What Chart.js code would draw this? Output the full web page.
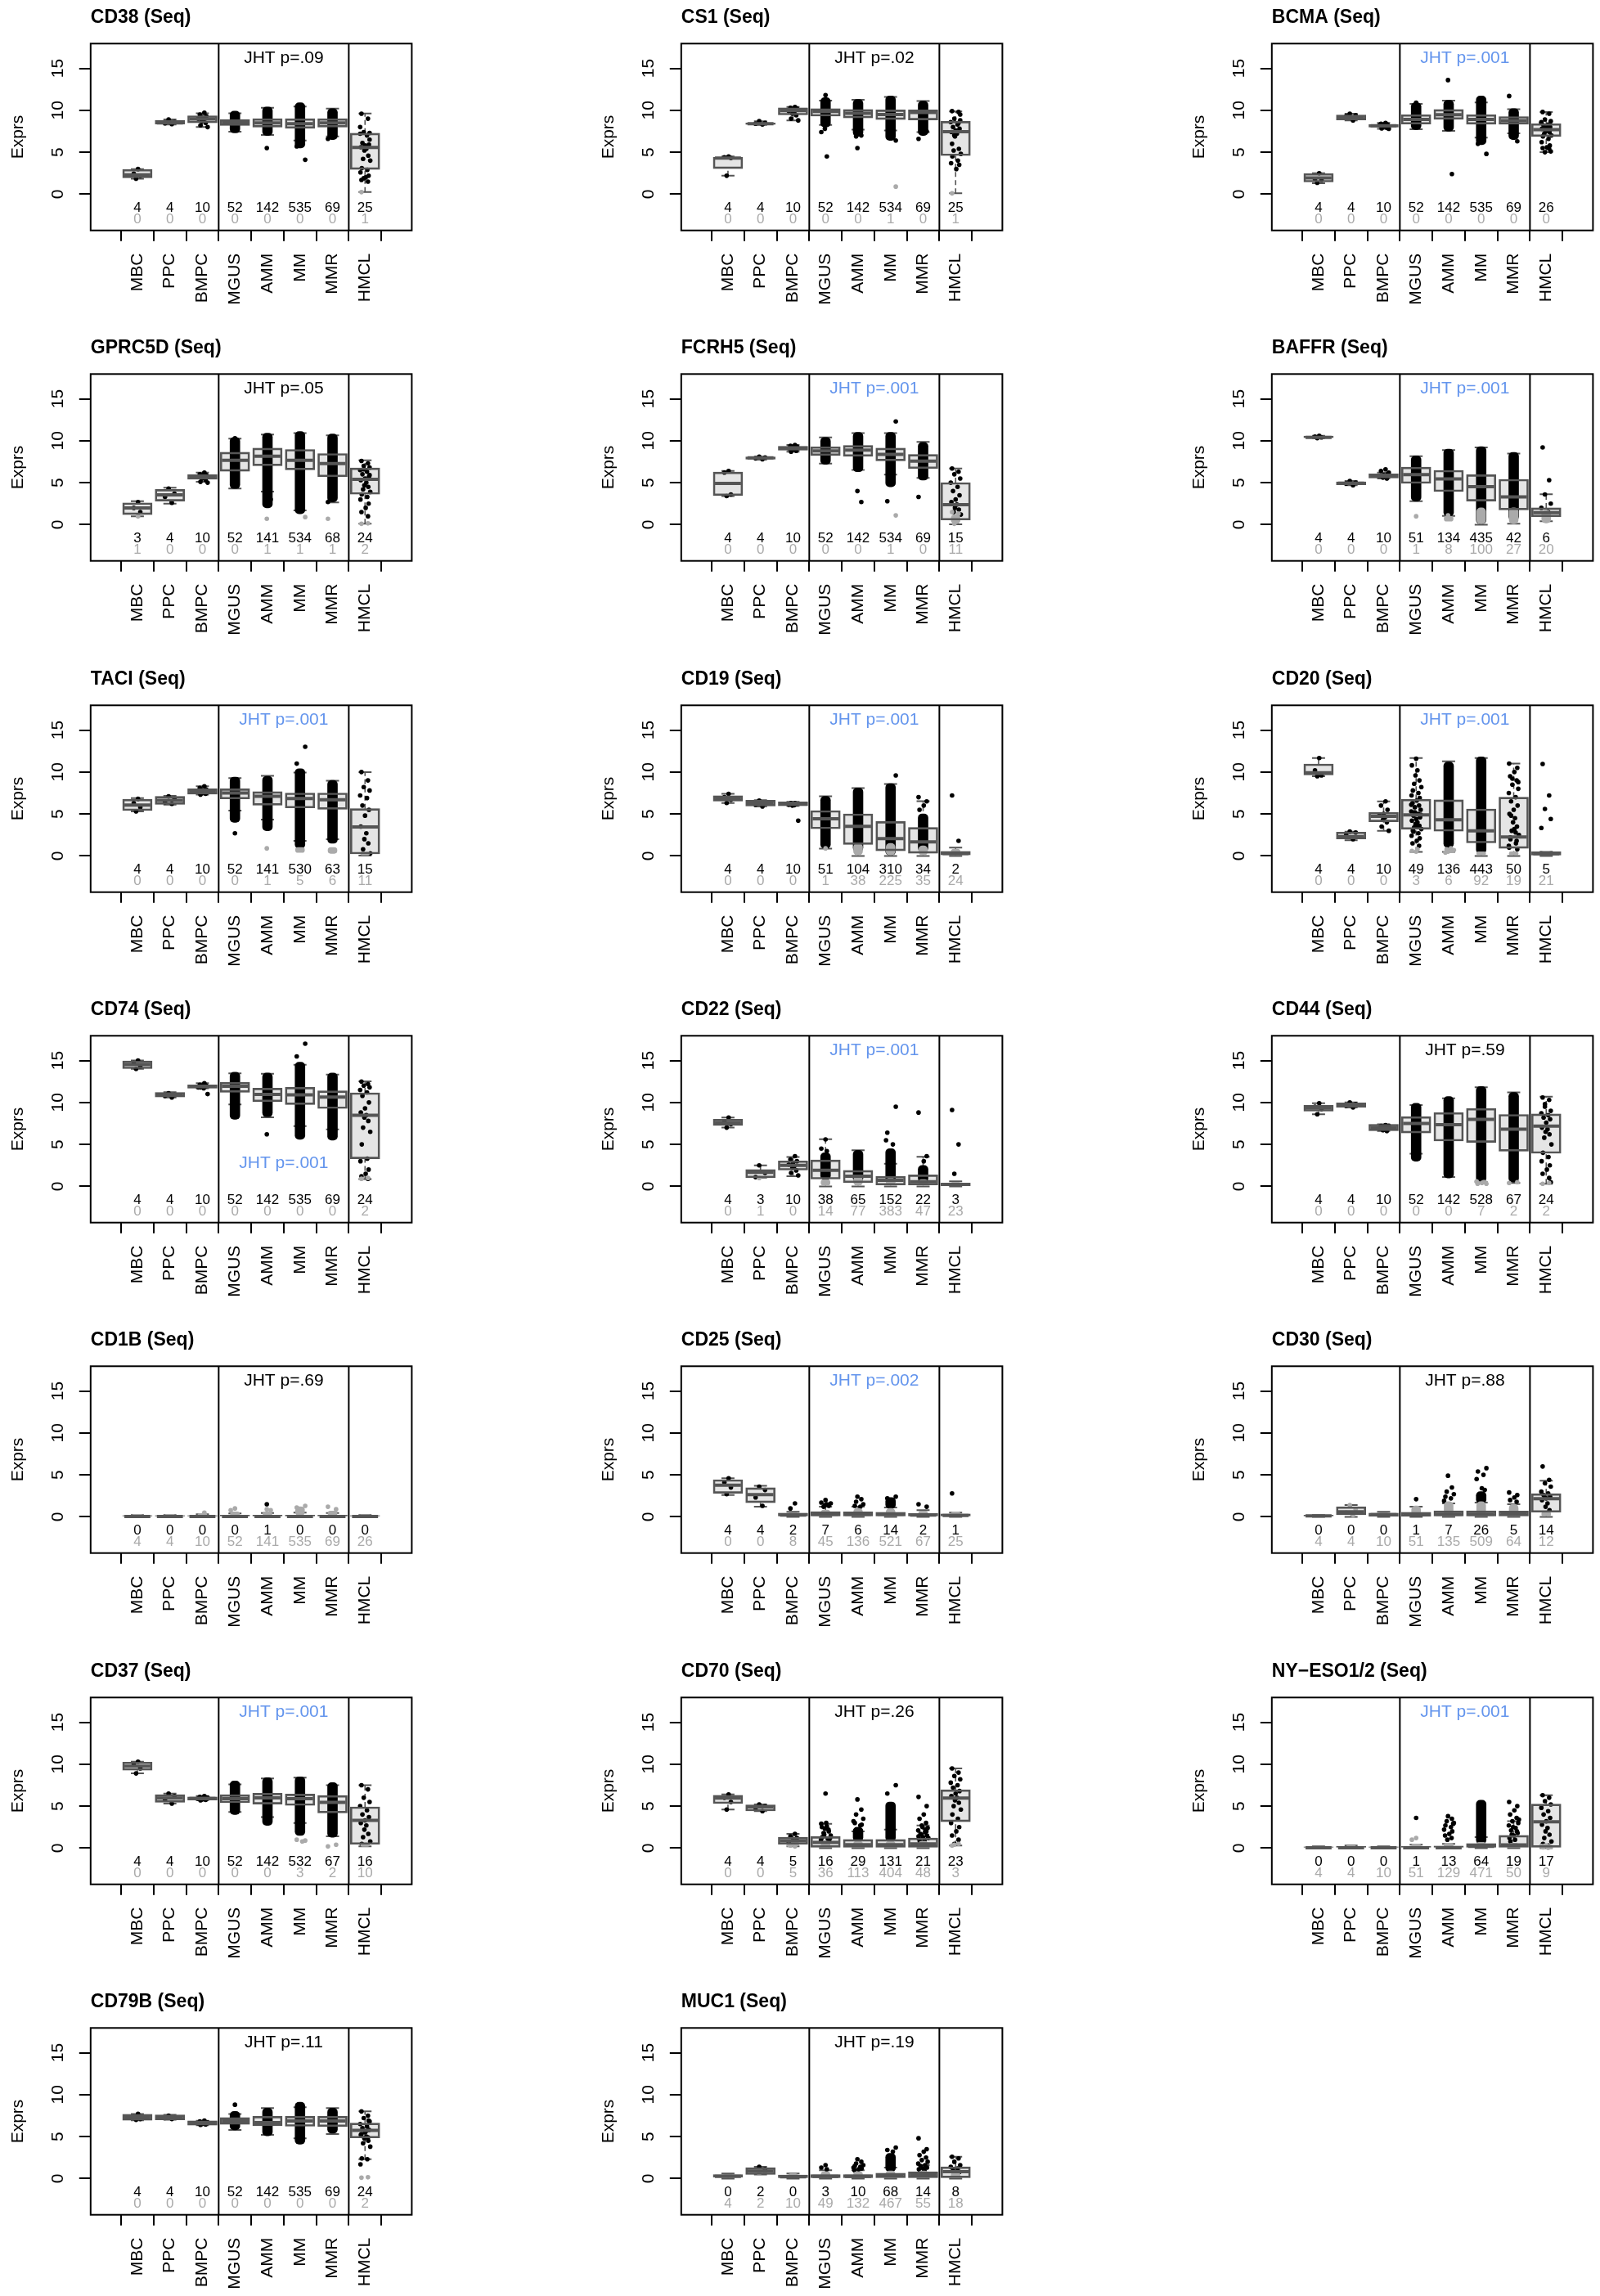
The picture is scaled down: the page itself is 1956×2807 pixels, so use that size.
<!DOCTYPE html>
<html><head><meta charset="utf-8">
<script src="https://cdn.jsdelivr.net/npm/chart.js@4.4.1/dist/chart.umd.min.js"></script>
<style>
html,body{margin:0;padding:0;background:#fff;}
#wrap{position:relative;width:1956px;height:2807px;overflow:hidden;background:#fff;}
#wrap canvas{position:absolute;}
</style></head><body><div id="wrap"></div>
<script>
// ---------------- DATA ----------------
const groups = ['MBC','PPC','BMPC','MGUS','AMM','MM','MMR','HMCL'];
const genes = ['CD38','CS1','BCMA','GPRC5D','FCRH5','BAFFR','TACI','CD19','CD20','CD74','CD22','CD44','CD1B','CD25','CD30','CD37','CD70','NY\u2212ESO1/2','CD79B','MUC1'];
const jhtLabels = ['JHT p=.09','JHT p=.02','JHT p=.001','JHT p=.05','JHT p=.001','JHT p=.001','JHT p=.001','JHT p=.001','JHT p=.001','JHT p=.001','JHT p=.001','JHT p=.59','JHT p=.69','JHT p=.002','JHT p=.88','JHT p=.001','JHT p=.26','JHT p=.001','JHT p=.11','JHT p=.19'];
const jhtSignificant = [false,false,true,false,true,true,true,true,true,true,true,false,false,true,false,true,false,true,false,false];
const yTicks = [0,5,10,15];
const separators = [3.5,7.5];

// number of samples with detectable (black) / undetectable (gray) expression
const nBlack = [
 [4,4,10,52,142,535,69,25],[4,4,10,52,142,534,69,25],[4,4,10,52,142,535,69,26],
 [3,4,10,52,141,534,68,24],[4,4,10,52,142,534,69,15],[4,4,10,51,134,435,42,6],
 [4,4,10,52,141,530,63,15],[4,4,10,51,104,310,34,2],[4,4,10,49,136,443,50,5],
 [4,4,10,52,142,535,69,24],[4,3,10,38,65,152,22,3],[4,4,10,52,142,528,67,24],
 [0,0,0,0,1,0,0,0],[4,4,2,7,6,14,2,1],[0,0,0,1,7,26,5,14],
 [4,4,10,52,142,532,67,16],[4,4,5,16,29,131,21,23],[0,0,0,1,13,64,19,17],
 [4,4,10,52,142,535,69,24],[0,2,0,3,10,68,14,8]];
const nGray = [
 [0,0,0,0,0,0,0,1],[0,0,0,0,0,1,0,1],[0,0,0,0,0,0,0,0],
 [1,0,0,0,1,1,1,2],[0,0,0,0,0,1,0,11],[0,0,0,1,8,100,27,20],
 [0,0,0,0,1,5,6,11],[0,0,0,1,38,225,35,24],[0,0,0,3,6,92,19,21],
 [0,0,0,0,0,0,0,2],[0,1,0,14,77,383,47,23],[0,0,0,0,0,7,2,2],
 [4,4,10,52,141,535,69,26],[0,0,8,45,136,521,67,25],[4,4,10,51,135,509,64,12],
 [0,0,0,0,0,3,2,10],[0,0,5,36,113,404,48,3],[4,4,10,51,129,471,50,9],
 [0,0,0,0,0,0,0,2],[4,2,10,49,132,467,55,18]];

// box statistics per group: [lower whisker, Q1, median, Q3, upper whisker]
const boxStats = [
 [[1.85,1.95,2.3,2.95,3.0],[8.3,8.35,8.5,8.8,8.9],[8.0,8.5,8.95,9.35,9.65],[7.45,8.2,8.6,8.9,9.65],[7.05,8.0,8.5,9.0,10.3],[6.4,7.85,8.4,9.0,10.45],[6.9,8.0,8.5,9.0,10.2],[0.25,2.95,5.57,7.27,9.62]],
 [[2.2,3.05,4.3,4.4,4.5],[8.25,8.3,8.4,8.5,8.7],[8.8,9.45,9.95,10.3,10.4],[8.25,9.3,9.86,10.2,11.15],[7.7,9.1,9.65,10.1,11.25],[7.6,8.9,9.5,10.05,11.6],[7.4,8.85,9.75,10.05,11.1],[0.1,4.6,7.45,8.68,9.86]],
 [[1.3,1.45,1.95,2.45,2.5],[8.8,8.85,9.1,9.45,9.6],[7.8,8.0,8.15,8.3,8.5],[7.75,8.35,8.92,9.47,10.77],[7.55,8.92,9.47,10.1,11.16],[6.75,8.34,8.92,9.47,10.93],[7.26,8.34,8.76,9.25,10.12],[5.0,6.87,7.69,8.4,9.8]],
 [[1.0,1.2,2.0,2.6,2.8],[2.5,2.8,3.55,4.2,4.4],[5.1,5.4,5.72,5.95,6.2],[4.3,6.37,7.66,8.63,10.25],[3.94,7.02,8.15,9.12,10.73],[1.7,6.53,7.66,8.96,10.9],[2.65,5.72,7.27,8.47,10.64],[0.1,3.62,5.4,6.76,7.66]],
 [[3.4,3.46,4.91,6.27,6.4],[7.75,7.8,7.95,8.08,8.1],[8.7,8.86,9.1,9.34,9.5],[7.27,8.24,8.79,9.28,10.4],[6.53,8.15,8.89,9.44,10.9],[5.95,7.6,8.37,9.12,10.9],[5.56,6.69,7.57,8.37,9.86],[0.05,0.55,2.39,5.01,6.69]],
 [[10.3,10.35,10.41,10.55,10.6],[4.7,4.75,4.95,5.1,5.2],[5.5,5.55,5.8,6.05,6.2],[2.8,4.91,5.95,6.85,8.15],[1.05,3.94,5.46,6.47,8.89],[0.0,2.81,4.53,5.95,9.21],[0.1,1.75,3.3,5.4,8.47],[0.4,0.94,1.42,2.0,3.62]],
 [[5.3,5.4,6.05,6.76,6.9],[6.1,6.15,6.63,7.1,7.15],[7.3,7.35,7.66,7.99,8.3],[5.4,6.79,7.5,7.99,9.28],[4.33,6.05,7.11,7.66,9.54],[1.8,5.72,6.85,7.5,9.93],[2.0,5.56,6.69,7.5,8.96],[0.05,0.23,3.46,5.63,9.99]],
 [[6.3,6.53,6.85,7.18,7.4],[5.9,5.95,6.27,6.63,6.65],[5.95,5.97,6.2,6.43,6.45],[0.87,3.23,4.43,5.4,7.11],[0.0,1.36,3.52,5.01,8.08],[0.0,0.61,2.07,4.1,8.57],[0.0,0.32,1.68,3.39,6.53],[0.0,0.13,0.29,0.55,1.0]],
 [[9.5,9.66,9.92,10.96,11.67],[1.87,2.03,2.3,2.84,2.9],[3.0,4.08,4.73,5.18,6.51],[0.48,3.17,4.89,6.74,11.67],[0.48,2.94,4.3,6.68,11.28],[0.0,1.55,3.0,5.6,11.67],[0.0,0.9,2.26,7.0,11.0],[0.0,0.0,0.25,0.5,0.5]],
 [[14.0,14.03,14.52,14.94,15.0],[10.6,10.64,10.9,11.2,11.22],[11.7,11.7,11.93,12.09,12.3],[9.76,11.22,11.93,12.41,13.48],[8.24,10.09,10.96,11.7,13.42],[7.18,9.76,10.9,11.8,14.5],[6.8,9.28,10.64,11.38,13.32],[0.87,3.3,8.47,11.15,12.51]],
 [[7.0,7.27,7.57,7.99,8.2],[1.03,1.03,1.68,2.0,2.5],[1.2,1.94,2.49,3.04,3.5],[0.0,0.87,1.91,3.14,5.63],[0.0,0.45,1.2,1.91,4.3],[0.0,0.16,0.71,1.2,2.7],[0.0,0.16,0.55,1.36,3.52],[0.0,0.06,0.23,0.39,0.6]],
 [[8.6,8.96,9.34,9.67,9.9],[9.4,9.44,9.7,9.95,10.0],[6.6,6.63,7.02,7.4,7.4],[3.9,6.37,7.5,8.31,9.7],[1.1,5.4,7.34,8.79,10.5],[0.5,5.24,7.99,9.28,11.8],[0.4,4.2,6.82,8.57,11.2],[0.3,3.94,7.18,8.63,10.7]],
 [[0,0,0.05,0.15,0.2],[0,0,0.05,0.15,0.2],[0,0,0.05,0.15,0.3],[0,0,0.05,0.2,0.4],[0,0,0.05,0.2,0.45],[0,0,0.05,0.2,0.5],[0,0,0.05,0.2,0.45],[0,0,0.05,0.15,0.2]],
 [[2.6,2.81,3.78,4.43,4.6],[1.2,1.68,2.65,3.46,3.7],[0,0,0.2,0.45,0.6],[0,0,0.3,0.61,1.2],[0,0,0.3,0.6,1.2],[0,0,0.3,0.55,1.1],[0,0,0.2,0.4,0.8],[0,0,0.15,0.35,0.5]],
 [[0,0,0.1,0.2,0.2],[0,0.23,0.61,1.2,1.4],[0,0.06,0.25,0.45,0.6],[0,0.06,0.3,0.55,1.2],[0,0,0.3,0.71,1.6],[0,0,0.3,0.71,1.7],[0,0.1,0.4,0.7,1.5],[0,0.55,2.17,2.75,4.3]],
 [[8.9,9.28,9.76,10.25,10.3],[5.3,5.46,5.95,6.37,6.5],[5.7,5.72,5.92,6.11,6.2],[4.3,5.4,5.88,6.37,7.6],[3.7,5.24,5.98,6.53,8.3],[3.0,5.08,5.88,6.43,8.4],[1.4,4.2,5.46,6.27,7.5],[0.2,0.45,3.3,4.91,7.5]],
 [[4.6,5.3,5.95,6.3,6.4],[4.4,4.43,4.91,5.14,5.2],[0.2,0.45,0.87,1.29,1.7],[0,0,0.68,1.36,2.9],[0,0,0.4,1.03,2.0],[0,0,0.4,1.03,2.2],[0,0,0.5,1.2,2.7],[0.3,3.14,5.95,6.95,9.5]],
 [[0,0,0.05,0.15,0.2],[0,0,0.05,0.2,0.3],[0,0,0.05,0.15,0.2],[0,0,0.05,0.2,0.4],[0,0,0.05,0.25,0.5],[0,0,0.2,0.55,1.3],[0,0,0.39,1.52,3.2],[0,0,3.14,5.24,6.3]],
 [[6.94,6.94,7.32,7.65,7.7],[7.0,7.0,7.35,7.58,7.6],[6.35,6.35,6.61,6.87,6.9],[5.8,6.45,6.87,7.26,7.7],[5.2,6.29,6.68,7.42,8.4],[4.8,6.23,6.87,7.42,8.5],[5.3,6.19,6.87,7.42,8.4],[2.3,4.84,5.74,6.61,8.0]],
 [[0,0.16,0.26,0.48,0.6],[0.48,0.48,0.9,1.29,1.4],[0,0,0.2,0.42,0.6],[0,0,0.25,0.48,1.0],[0,0,0.25,0.48,1.0],[0,0,0.35,0.65,1.3],[0,0,0.45,0.81,1.6],[0,0,0.81,1.39,2.6]]];

// value range [low, high] of densely packed (overlapping) detected samples
const N = null;
const blackDense = [
 [N,N,N,[7.3,9.9],[7.0,10.4],[5.5,10.9],[6.5,10.2],N],
 [N,N,N,[8.0,11.5],[6.9,11.3],[6.4,11.7],[7.0,11.1],N],
 [N,N,N,[7.7,10.9],[7.5,11.2],[5.9,11.7],[6.5,10.2],N],
 [N,N,N,[4.3,10.4],[2.0,10.9],[1.3,11.1],[2.7,10.8],N],
 [N,N,N,[7.2,10.4],[6.3,11.0],[4.5,11.0],[5.3,9.8],N],
 [N,N,N,[2.8,8.2],[1.0,9.0],[0.0,9.3],[0.5,8.6],N],
 [N,N,N,[4.0,9.4],[3.0,9.5],[0.9,10.4],[1.5,9.0],N],
 [N,N,N,[0.9,7.1],[0.5,8.1],[0.0,8.6],[0.5,5.0],N],
 [N,N,N,N,[1.0,11.2],[0.3,11.8],N,N],
 [N,N,N,[8.0,13.6],[8.3,13.5],[5.6,14.8],[5.5,13.5],N],
 [N,N,N,[0.8,4.0],[0.5,4.3],[0.3,4.5],[0.5,2.5],N],
 [N,N,N,[3.0,9.9],[1.0,10.7],[0.5,11.9],[0.5,11.2],N],
 [N,N,N,N,N,N,N,N],
 [N,N,N,N,N,[1.0,2.3],N,N],
 [N,N,N,N,N,[1.6,3.0],N,N],
 [N,N,N,[4.0,8.0],[2.7,8.4],[1.5,8.5],[1.3,7.8],N],
 [N,N,N,N,[0.8,2.5],[0.8,5.5],N,N],
 [N,N,N,N,N,[0.5,5.7],N,N],
 [N,N,N,[5.8,8.0],[5.1,8.4],[4.1,9.1],[5.4,8.4],N],
 [N,N,N,N,N,[0.8,3.0],N,N]];

// value range of densely packed undetected (gray) samples
const grayDense = [
 [N,N,N,N,N,N,N,N],[N,N,N,N,N,N,N,N],[N,N,N,N,N,N,N,N],[N,N,N,N,N,N,N,N],
 [N,N,N,N,N,N,N,[0.0,1.2]],
 [N,N,N,N,[0.4,1.0],[0.0,2.0],[0.0,2.0],[0.2,1.7]],
 [N,N,N,N,N,[0.4,1.0],[0.3,1.0],[0.0,0.5]],
 [N,N,N,N,[0.0,1.5],[0.0,1.5],[0.0,1.2],[0.0,0.8]],
 [N,N,N,N,N,[0.0,0.5],[0.0,0.5],[0.0,0.6]],
 [N,N,N,N,N,N,N,N],
 [N,N,N,[0.0,0.8],[0.0,1.2],[0.0,1.0],[0.0,0.8],[0.0,0.5]],
 [N,N,N,N,N,N,N,N],
 [[0,0.3],[0,0.3],[0,0.4],[0,0.6],[0,0.6],[0,1.2],[0,0.7],[0,0.25]],
 [N,N,[0,0.5],[0,0.8],[0,1.0],[0,1.0],[0,0.7],[0,0.6]],
 [[0,0.2],N,[0,0.5],[0,1.3],[0,1.8],[0,1.8],[0,1.5],[0,0.6]],
 [N,N,N,N,N,N,N,[0.2,0.6]],
 [N,N,N,[0,0.8],[0,0.8],[0,0.8],[0,0.8],N],
 [[0,0.2],[0,0.3],[0,0.2],[0,0.5],[0,0.6],[0,0.7],[0,0.6],N],
 [N,N,N,N,N,N,N,N],
 [[0,0.5],N,[0,0.6],[0,0.8],[0,0.8],[0,0.9],[0,0.9],[0,0.7]]];

// individually visible detected samples
const blackPoints = [
 [[3.0,2.45,2.15,1.85],[8.9,8.6,8.45,8.35],[9.7,9.5,9.3,9.1,9.0,8.9,8.7,8.5,8.2,8.0],[],[5.5],[4.1,5.7,6.0],[6.6],[9.6,9.0,7.4,7.3,7.2,7.0,6.1,5.9,5.8,5.6,5.4,5.2,4.6,4.2,4.0,3.1,2.9,2.6,2.2,2.0,1.7,1.5,1.9,6.5,8.0]],
 [[4.5,4.4,4.3,2.2],[8.7,8.5,8.4,8.3],[10.4,10.3,10.2,10.0,9.9,9.8,9.6,9.4,9.0,8.8],[11.8,7.4,4.5,7.8],[5.5,7.0,6.9],[6.4],[6.6,7.5],[9.9,9.8,9.0,8.8,8.6,8.3,8.0,7.8,7.6,7.4,7.2,6.9,5.4,5.2,4.8,4.5,4.0,3.7,3.5,3.0,6.0,8.5,7.0,9.5]],
 [[2.5,1.8,1.7,1.35],[9.6,9.4,9.3,8.8],[8.5,8.4,8.3,8.2,8.2,8.1,8.0,7.9,7.85,7.8],[10.9],[13.6,2.4],[4.8,6.0],[11.7,6.3],[9.8,9.6,8.9,8.7,8.5,8.3,8.2,8.0,7.9,7.8,7.6,7.5,7.4,7.2,7.0,6.9,6.6,6.2,5.8,5.6,5.5,5.4,5.0,5.1,8.6,7.7]],
 [[2.7,2.0,1.5],[4.3,3.7,3.3,2.6],[6.2,6.0,5.9,5.8,5.7,5.6,5.5,5.3,5.1,5.0],[10.3],[2.5,3.0],[],[2.7],[7.6,7.3,7.0,6.8,6.5,6.3,6.0,5.7,5.5,5.3,5.0,4.7,4.5,4.2,3.9,3.6,3.3,3.0,2.5,2.0,1.5,1.0,6.6,5.9]],
 [[6.4,6.2,3.6,3.4],[8.1,8.0,7.9,7.8],[9.5,9.4,9.3,9.2,9.1,9.0,8.9,8.8,8.7,9.1],[],[4.0,2.7],[12.3,2.8],[3.3],[6.7,6.3,6.0,5.5,5.0,4.5,4.0,3.5,3.0,2.7,2.4,2.0,1.8,1.5,1.2]],
 [[10.6,10.5,10.4,10.3],[5.2,5.0,4.9,4.7],[6.6,6.4,6.0,5.9,5.8,5.7,5.6,5.5,5.8,6.2],[],[],[],[],[9.2,5.3,3.6,2.5,2.0,1.5]],
 [[6.8,6.3,5.8,5.3],[7.1,6.8,6.4,6.2],[8.3,8.1,7.9,7.8,7.7,7.6,7.5,7.4,7.3,7.7],[2.7],[],[13.0,11.0],[],[10.0,9.0,8.2,7.8,7.2,6.9,6.0,5.5,4.8,3.5,2.7,2.0,1.5,0.8,0.3]],
 [[7.4,7.0,6.7,6.3],[6.6,6.4,6.1,5.9],[6.3,6.25,6.2,6.15,6.1,6.05,6.0,6.2,6.3,4.2],[],[],[9.6],[7.0,6.5,6.0,5.5],[7.2,1.8]],
 [[11.67,10.2,9.6,9.5],[2.9,2.8,2.5,2.0],[6.5,6.0,5.5,5.0,4.8,4.6,4.3,4.0,3.5,3.0],
  [11.6,10.8,10.2,9.6,9.0,8.6,8.2,7.8,7.5,7.2,6.9,6.6,6.3,6.0,5.8,5.5,5.3,5.0,4.8,4.6,4.4,4.2,4.0,3.8,3.6,3.4,3.2,3.0,2.7,2.4,2.1,1.8,1.5,1.2,5.2,4.9,6.1,3.5,2.9],
  [],[],
  [11.0,10.5,10.0,9.5,9.0,8.5,8.0,7.5,7.0,6.5,6.0,5.5,5.0,4.5,4.0,3.5,3.0,2.5,2.0,1.5,1.0,0.8,3.2,2.2,1.8,9.2,8.8,1.2,2.8,4.8],
  [10.96,7.2,5.6,4.4,3.33]],
 [[15.0,14.7,14.3,14.0],[11.1,10.9,10.8,10.6],[12.3,12.1,12.0,11.9,11.8,11.7,12.0,11.9,11.8,11.0],[],[6.2],[17.0,15.5],[],[12.5,12.2,12.0,11.8,11.5,11.2,10.8,10.0,9.3,8.8,8.5,8.2,7.8,7.0,6.5,5.0,3.3,3.0,2.0,1.5,1.2,0.9]],
 [[8.2,7.7,7.4,7.0],[2.5,1.6,1.1],[3.6,3.2,3.0,2.8,2.6,2.4,2.2,1.9,1.6,1.3],[5.6,4.5,4.2],[],[9.5,6.4,5.0,5.5],[8.8,3.6,3.0],[9.1,5.0,1.5]],
 [[9.9,9.5,9.2,8.6],[10.0,9.8,9.6,9.4],[7.3,7.2,7.1,7.0,6.9,6.8,6.7,6.6,7.0,7.2],[],[],[],[],[10.6,10.3,9.5,9.0,8.7,8.5,8.2,8.0,7.6,7.0,6.8,6.5,6.2,5.8,5.0,4.0,3.5,3.0,2.5,2.0,1.5,1.0,9.8,0.5]],
 [[],[],[],[],[1.5],[],[],[]],
 [[4.6,4.1,3.5,2.7],[3.6,3.2,2.3,1.3],[1.6,1.0],[2.0,1.7,1.5,1.4,1.3,1.2,1.6],[2.4,2.1,1.8,1.5,1.3,1.2],[2.4,2.2,2.0],[1.5,1.2],[2.8]],
 [[],[],[],[2.1],[4.9,3.5,3.0,2.7,2.4,2.2,1.9],[5.8,5.4,5.0,4.5,3.2,3.4],[2.9,2.6,2.3,2.0,1.8],[6.0,4.4,4.0,3.6,3.0,2.8,2.6,2.4,2.2,2.0,1.6,1.2,0.8,2.5]],
 [[10.3,10.0,9.5,8.9],[6.5,6.2,5.8,5.3],[6.2,6.1,6.0,5.95,5.9,5.85,5.8,5.75,5.7,6.0],[],[],[],[],[7.5,7.0,6.0,5.5,5.0,4.5,4.0,3.7,3.3,3.0,2.7,2.2,1.7,1.3,0.8,0.5]],
 [[6.4,6.0,5.5,4.6],[5.2,5.0,4.8,4.4],[1.7,1.4,1.2,0.9,0.7],[6.5,2.9,2.6,2.3,2.0,1.8,1.5,1.3,1.1,1.0,0.9,3.0,2.5,2.2,1.6,1.2],[5.8,4.6,4.0,3.5,3.0,2.7,3.2,2.8],[7.5,6.5],[6.1,5.0,4.0,3.5,3.0,2.7,2.4,2.1,1.9,1.7,1.5,1.3,1.1,0.9,2.5,2.0,1.6,1.2,0.8,2.2,1.4],[9.5,9.0,8.6,8.2,7.8,7.5,7.2,6.8,6.5,6.2,6.0,5.7,5.4,5.0,4.6,4.0,3.5,3.0,2.5,2.0,1.5,1.0,0.5]],
 [[],[],[],[3.6],[3.8,3.5,3.2,3.0,2.7,2.5,2.2,2.0,1.7,1.5,1.2,1.0,2.9],[],[5.5,5.0,4.5,4.0,3.6,3.2,3.0,2.7,2.4,2.1,1.8,1.5,1.2,1.0,2.5,2.0,1.6,3.4,0.8],[6.3,6.0,5.6,5.2,4.8,4.4,4.0,3.6,3.2,2.8,2.4,2.0,1.6,1.2,0.8,0.5,0.3]],
 [[7.7,7.4,7.1,7.0],[7.5,7.3,7.2,7.1],[6.9,6.8,6.7,6.65,6.6,6.55,6.5,6.45,6.4,6.7],[8.8],[],[],[],[8.0,7.5,7.2,6.8,6.5,6.2,6.0,5.8,5.5,5.2,5.0,4.8,4.5,4.2,3.8,2.4,2.3,1.7,6.9,5.6,5.3,4.9]],
 [[],[1.4,1.1],[],[1.6,1.3,1.1],[2.3,2.0,1.8,1.6,1.5,1.4,1.3,1.2,1.1,1.0],[3.7,3.4,3.2],[4.8,3.5,3.2,2.8,2.5,2.2,2.0,1.8,1.6,1.5,1.3,1.2,1.1,1.0],[2.6,2.4,2.0,1.6,1.4,1.2,1.0,0.8]]];

// individually visible undetected samples
const grayPoints = [
 [[],[],[],[],[],[],[],[0.25]],
 [[],[],[],[],[],[0.9],[],[0.1]],
 [[],[],[],[],[],[],[],[]],
 [[1.0],[],[],[],[0.7],[0.9],[0.7],[0.1,0.15]],
 [[],[],[],[],[],[1.1],[],[1.5,1.3,0.1]],
 [[],[],[],[1.0],[1.1],[],[],[]],
 [[],[],[],[],[0.9],[],[],[]],
 [[],[],[],[0.9],[],[],[],[]],
 [[],[],[],[0.5,0.6,0.8],[0.5,0.6,0.8,0.7,0.4,0.9],[],[],[]],
 [[],[],[],[],[],[],[],[0.9,1.0]],
 [[],[1.0],[],[],[],[],[],[]],
 [[],[],[],[],[],[0.3,0.4,0.5,0.6,0.5,0.4,0.3],[0.4,0.5],[0.3,0.4]],
 [[],[],[0.5],[1.0,0.8],[0.9,0.8],[1.3,1.1,0.9],[1.2,0.9],[]],
 [[],[],[],[],[],[],[],[]],
 [[],[1.4,0.9,0.5,0.2],[],[],[],[],[],[]],
 [[],[],[],[],[],[0.9,1.0,0.8],[0.2,0.4],[]],
 [[],[],[0.2,0.3,0.5,0.6,0.4],[],[],[],[],[0.3,0.5,0.4]],
 [[],[],[],[1.2,1.0],[],[],[],[0.1,0.2,0.3,0.15,0.25,0.05,0.1,0.2,0.3]],
 [[],[],[],[],[],[],[],[0.1,0.15]],
 [[],[0.6,0.8],[],[],[],[],[],[]]];

// ---------------- STYLE / LAYOUT ----------------
const FONT = '"Liberation Sans", Arial, Helvetica, sans-serif';
const BLUE = '#6495ED', GRAY = '#aaaaaa', BOXLINE = '#555555', BOXFILL = '#e5e5e5';
const COL_PITCH = 722, ROW_PITCH = 404.3, CW = 512, CH = 404;
const PLOT_LEFT = 110.8, PLOT_RIGHT_PAD = 8.6, XAXIS_H = 122.3;
const X_MIN = 0.18, X_MAX = 8.82, Y_MIN = -4.32, Y_MAX = 17.95;
const BOX_HALF = 0.4, STAPLE_HALF = 0.2;
const COUNT_Y1 = -2.12, COUNT_Y2 = -3.52, JHT_TOP = 15.65, JHT_BOTTOM = 2.17;
const JHT_BOTTOM_GENES = ['CD74'];
const JITTER = [0.02,-0.11,0.09,-0.04,0.14,-0.15,0.06,-0.08,0.12,0.0,-0.13,0.04,-0.02,0.1,-0.06,0.16,-0.1,0.07,-0.14,0.11];

Chart.defaults.font.family = FONT;
Chart.defaults.color = '#000';

const decor = {
  id: 'decor',
  afterDatasetsDraw(chart, args, opts) {
    const k = opts.k;
    const {ctx, chartArea: a, scales: {x, y}} = chart;
    ctx.save();
    ctx.strokeStyle = '#000'; ctx.lineWidth = 2;
    separators.forEach(s => {
      const px = x.getPixelForValue(s);
      ctx.beginPath(); ctx.moveTo(px, a.top); ctx.lineTo(px, a.bottom); ctx.stroke();
    });
    ctx.strokeRect(a.left, a.top, a.right - a.left, a.bottom - a.top);
    ctx.font = '17px ' + FONT; ctx.textAlign = 'center'; ctx.textBaseline = 'alphabetic';
    groups.forEach((g, i) => {
      const px = x.getPixelForValue(i + 1);
      ctx.fillStyle = '#000'; ctx.fillText(String(nBlack[k][i]), px, y.getPixelForValue(COUNT_Y1));
      ctx.fillStyle = GRAY; ctx.fillText(String(nGray[k][i]), px, y.getPixelForValue(COUNT_Y2));
    });
    ctx.font = '21px ' + FONT;
    ctx.fillStyle = jhtSignificant[k] ? BLUE : '#000';
    const jy = JHT_BOTTOM_GENES.includes(genes[k]) ? JHT_BOTTOM : JHT_TOP;
    ctx.fillText(jhtLabels[k], x.getPixelForValue((separators[0] + separators[1]) / 2), y.getPixelForValue(jy));
    ctx.restore();
  },
  afterDraw(chart) {
    const {ctx, scales: {y}} = chart;
    ctx.save();
    ctx.font = '21px ' + FONT; ctx.fillStyle = '#000'; ctx.textAlign = 'center'; ctx.textBaseline = 'middle';
    y.ticks.forEach(t => {
      ctx.save();
      ctx.translate(71, y.getPixelForValue(t.value));
      ctx.rotate(-Math.PI / 2);
      ctx.fillText(String(t.value), 0, 0);
      ctx.restore();
    });
    ctx.restore();
  }
};

function buildDatasets(k) {
  const bs = boxStats[k];
  const med = [], whisk = [], staple = [];
  bs.forEach((b, i) => {
    const c = i + 1;
    med.push({x: c - BOX_HALF, y: b[2]}, {x: c + BOX_HALF, y: b[2]}, {x: c + BOX_HALF, y: null});
    whisk.push({x: c, y: b[0]}, {x: c, y: b[1]}, {x: c, y: null}, {x: c, y: b[3]}, {x: c, y: b[4]}, {x: c, y: null});
    staple.push({x: c - STAPLE_HALF, y: b[0]}, {x: c + STAPLE_HALF, y: b[0]}, {x: c + STAPLE_HALF, y: null},
                {x: c - STAPLE_HALF, y: b[4]}, {x: c + STAPLE_HALF, y: b[4]}, {x: c + STAPLE_HALF, y: null});
  });
  const boxData = bs.map((b, i) => ({x: i + 1, y: [b[1], b[3]]}));
  const band = arr => arr.map((r, i) => r ? {x: i + 1, y: r} : null).filter(Boolean);
  const pts = arr => {
    const out = [];
    arr.forEach((vals, i) => vals.forEach((v, j) => out.push({x: i + 1 + JITTER[(j + i * 3) % JITTER.length], y: v})));
    return out;
  };
  const lineBase = {type: 'line', showLine: true, pointRadius: 0, fill: false, tension: 0, spanGaps: false, borderColor: BOXLINE};
  const barBase = {type: 'bar', grouped: false, borderSkipped: false};
  const ptBase = {type: 'scatter', pointRadius: 2.8, pointBorderWidth: 0, showLine: false};
  return [
    Object.assign({}, barBase, {data: boxData, backgroundColor: BOXFILL, borderWidth: 0, barThickness: 36, order: 10}),
    Object.assign({}, lineBase, {data: whisk, borderWidth: 1.6, borderDash: [6, 4], order: 9}),
    Object.assign({}, lineBase, {data: staple, borderWidth: 2, order: 8}),
    Object.assign({}, barBase, {data: band(blackDense[k]), backgroundColor: '#000', borderWidth: 0, barThickness: 12, borderRadius: 5, order: 7}),
    Object.assign({}, ptBase, {data: pts(blackPoints[k]), backgroundColor: '#000', pointBackgroundColor: '#000', order: 6}),
    Object.assign({}, barBase, {data: band(grayDense[k]), backgroundColor: GRAY, borderWidth: 0, barThickness: 11, borderRadius: 5, order: 5}),
    Object.assign({}, ptBase, {data: pts(grayPoints[k]), backgroundColor: GRAY, pointBackgroundColor: GRAY, order: 4}),
    Object.assign({}, barBase, {data: boxData, backgroundColor: 'rgba(0,0,0,0)', borderColor: BOXLINE, borderWidth: 2, barThickness: 36, order: 3}),
    Object.assign({}, lineBase, {data: med, borderWidth: 4, order: 2})
  ];
}

function config(k) {
  return {
    type: 'scatter',
    data: {datasets: buildDatasets(k)},
    options: {
      responsive: false, animation: false, events: [],
      layout: {padding: {left: 0, right: PLOT_RIGHT_PAD, top: 0, bottom: 0}},
      plugins: {
        legend: {display: false}, tooltip: {enabled: false},
        title: {display: true, text: genes[k] + ' (Seq)', align: 'start', fullSize: false, color: '#000',
                font: {size: 23, weight: 'bold', family: FONT}, padding: {top: 7.9, bottom: 17.8}},
        decor: {k: k}
      },
      scales: {
        x: {
          type: 'linear', min: X_MIN, max: X_MAX,
          afterBuildTicks: s => { s.ticks = groups.map((g, i) => ({value: i + 1})); },
          afterFit: s => { s.height = XAXIS_H; },
          ticks: {callback: v => groups[v - 1], minRotation: 90, maxRotation: 90, autoSkip: false,
                  font: {size: 21}, color: '#000', padding: 15},
          grid: {display: true, drawOnChartArea: false, drawTicks: true, tickLength: 13, color: '#000', lineWidth: 2},
          border: {display: false}
        },
        y: {
          type: 'linear', min: Y_MIN, max: Y_MAX,
          afterBuildTicks: s => { s.ticks = yTicks.map(v => ({value: v})); },
          afterFit: s => { s.width = PLOT_LEFT; },
          ticks: {display: false},
          grid: {display: true, drawOnChartArea: false, drawTicks: true, tickLength: 14, color: '#000', lineWidth: 2},
          border: {display: false},
          title: {display: true, text: 'Exprs', font: {size: 21}, color: '#000', padding: {top: 10, bottom: 0}}
        }
      }
    },
    plugins: [decor]
  };
}

const wrap = document.getElementById('wrap');
genes.forEach((g, k) => {
  const c = k % 3, r = Math.floor(k / 3);
  const cv = document.createElement('canvas');
  cv.width = CW; cv.height = CH;
  cv.style.left = (c * COL_PITCH) + 'px';
  cv.style.top = (r * ROW_PITCH) + 'px';
  cv.style.width = CW + 'px'; cv.style.height = CH + 'px';
  wrap.appendChild(cv);
  new Chart(cv, config(k));
});
</script></body></html>
